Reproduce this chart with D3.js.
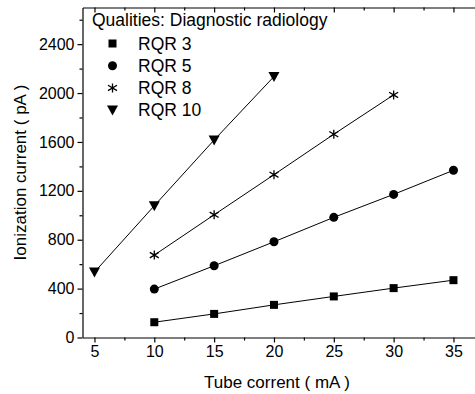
<!DOCTYPE html>
<html><head><meta charset="utf-8">
<script src="https://cdn.jsdelivr.net/npm/d3@7"></script>
<style>
html,body{margin:0;padding:0;background:#fff;}
svg{display:block;font-family:"Liberation Sans",Arial,sans-serif;}
</style></head>
<body><svg id="c" width="475" height="394"></svg>
<script>
const tubeCurrent3 = [10, 15, 20, 25, 30, 35];
const rqr3 = [125, 193, 267, 336, 404, 469];
const tubeCurrent5 = [10, 15, 20, 25, 30, 35];
const rqr5 = [396, 587, 783, 983, 1171, 1368];
const tubeCurrent8 = [10, 15, 20, 25, 30];
const rqr8 = [674, 1004, 1332, 1663, 1985];
const tubeCurrent10 = [5, 10, 15, 20];
const rqr10 = [535, 1078, 1616, 2135];
const seriesNames = ["RQR 3", "RQR 5", "RQR 8", "RQR 10"];
const seriesSymbols = ["square", "circle", "star", "triangle"];
const xTicks = [5, 10, 15, 20, 25, 30, 35];
const yTicks = [0, 400, 800, 1200, 1600, 2000, 2400];
const legendTitle = "Qualities: Diagnostic radiology";
const xTitle = "Tube corrent ( mA )";
const yTitle = "Ionization current ( pA )";

const series = [
  {name: seriesNames[0], sym: seriesSymbols[0], xs: tubeCurrent3, ys: rqr3},
  {name: seriesNames[1], sym: seriesSymbols[1], xs: tubeCurrent5, ys: rqr5},
  {name: seriesNames[2], sym: seriesSymbols[2], xs: tubeCurrent8, ys: rqr8},
  {name: seriesNames[3], sym: seriesSymbols[3], xs: tubeCurrent10, ys: rqr10}
];

const svg = d3.select("#c");
const x = d3.scaleLinear().domain([4, 37]).range([82.5, 477.4]);
const y = d3.scaleLinear().domain([0, 2700]).range([337.5, 7.5]);
const fmt = d3.format("d");

const xMinor = d3.range(7.5, 37, 5);
const yMinor = d3.range(200, 2700, 400);

// bottom axis
svg.append("g").attr("transform", `translate(0,${y(0)})`)
  .call(d3.axisBottom(x).tickValues(xTicks).tickFormat(fmt).tickSize(5).tickSizeOuter(0).tickPadding(3));
svg.append("g").attr("transform", `translate(0,${y(0)})`)
  .call(d3.axisBottom(x).tickValues(xMinor).tickSize(3).tickSizeOuter(0).tickFormat(""))
  .select(".domain").remove();
// top axis (inward)
svg.append("g").attr("transform", `translate(0,${y(2700)})`)
  .call(d3.axisTop(x).tickValues(xTicks).tickSize(-5).tickSizeOuter(0).tickFormat(""));
svg.append("g").attr("transform", `translate(0,${y(2700)})`)
  .call(d3.axisTop(x).tickValues(xMinor).tickSize(-3).tickSizeOuter(0).tickFormat(""))
  .select(".domain").remove();
// left axis
svg.append("g").attr("transform", `translate(${x(4)},0)`)
  .call(d3.axisLeft(y).tickValues(yTicks).tickFormat(fmt).tickSize(5).tickSizeOuter(0).tickPadding(3));
svg.append("g").attr("transform", `translate(${x(4)},0)`)
  .call(d3.axisLeft(y).tickValues(yMinor).tickSize(3).tickSizeOuter(0).tickFormat(""))
  .select(".domain").remove();

svg.selectAll(".tick text").attr("font-size", 16).attr("font-family", '"Liberation Sans",Arial,sans-serif').attr("fill", "#000");
svg.selectAll(".domain, .tick line").attr("stroke", "#000").attr("stroke-width", 1.2);

// axis titles
svg.append("text").attr("x", (x(4) + x(37)) / 2 - 3).attr("y", 388)
  .attr("text-anchor", "middle").attr("font-size", 17).text(xTitle);
svg.append("text").attr("transform", `translate(26,${(y(0) + y(2700)) / 2}) rotate(-90)`)
  .attr("text-anchor", "middle").attr("font-size", 17).text(yTitle);

function drawSymbol(g, sym, cx, cy) {
  if (sym === "square") {
    g.append("rect").attr("x", cx - 4).attr("y", cy - 4).attr("width", 8).attr("height", 8).attr("fill", "#000");
  } else if (sym === "circle") {
    g.append("circle").attr("cx", cx).attr("cy", cy).attr("r", 4.5).attr("fill", "#000");
  } else if (sym === "triangle") {
    g.append("path").attr("d", `M${cx - 5.5},${cy - 4.5}L${cx + 5.5},${cy - 4.5}L${cx},${cy + 5.5}Z`).attr("fill", "#000");
  } else {
    const r = 4.5;
    g.append("path").attr("d",
      `M${cx},${cy - r}L${cx},${cy + r}M${cx - r},${cy - r * 0.6}L${cx + r},${cy + r * 0.6}M${cx - r},${cy + r * 0.6}L${cx + r},${cy - r * 0.6}`)
      .attr("stroke", "#000").attr("stroke-width", 1.3).attr("fill", "none");
  }
}

const line = d3.line().x(d => x(d[0])).y(d => y(d[1]));
series.forEach(s => {
  const pts = s.xs.map((v, i) => [v, s.ys[i]]);
  svg.append("path").datum(pts).attr("d", line).attr("fill", "none").attr("stroke", "#000").attr("stroke-width", 1);
  const g = svg.append("g");
  pts.forEach(p => drawSymbol(g, s.sym, x(p[0]), y(p[1])));
});

// legend
svg.append("text").attr("x", 92).attr("y", 26).attr("font-size", 17.5).text(legendTitle);
series.forEach((s, i) => {
  const cy = 43.5 + i * 22.2;
  drawSymbol(svg.append("g"), s.sym, 112.5, cy);
  svg.append("text").attr("x", 138).attr("y", cy + 6).attr("font-size", 17.5).text(s.name);
});
</script></body></html>
